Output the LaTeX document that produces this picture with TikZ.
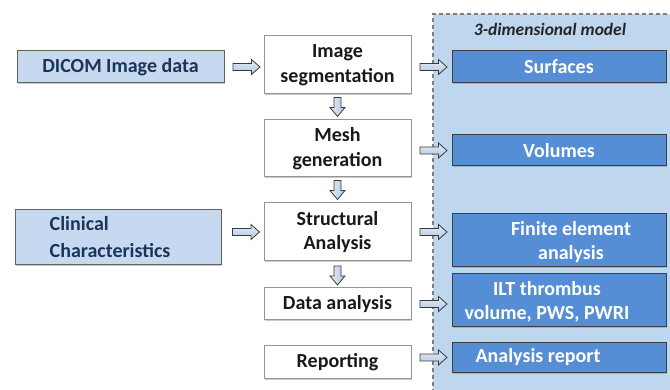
\documentclass[tikz,border=0pt]{standalone}
\usepackage{fontspec}
\setmainfont{Carlito}
\usetikzlibrary{shadows,calc}

\definecolor{navytext}{HTML}{1B3558}
\definecolor{inputfill}{HTML}{C6D9F0}
\definecolor{inputedge}{HTML}{5E6656}
\definecolor{whiteedge}{HTML}{959595}
\definecolor{modelfill}{HTML}{BED7EE}
\definecolor{modeledge}{HTML}{7F7F7F}
\definecolor{resultfill}{HTML}{558ED5}
\definecolor{resultedge}{HTML}{3C3F44}
\definecolor{arrowedge}{HTML}{3A3A3A}
\definecolor{arrowtop}{HTML}{E4ECF6}
\definecolor{arrowbot}{HTML}{B0C6E2}

\tikzset{
  boxfont/.style={font=\fontsize{20}{24.5}\selectfont\bfseries},
  softshadow/.style={drop shadow={shadow xshift=1.2pt, shadow yshift=-1.5pt, opacity=0.35, fill=black!60}},
  inputbox/.style={draw=inputedge, line width=1pt, fill=inputfill, text=navytext,
    boxfont, align=center, inner sep=0pt, softshadow},
  stagebox/.style={draw=whiteedge, line width=1pt, fill=white, text=black!90,
    boxfont, align=center, inner sep=0pt, minimum width=147pt, softshadow},
  resultbox/.style={draw=resultedge, line width=1pt, fill=resultfill,
    inner sep=0pt, minimum width=214pt, softshadow},
  resulttext/.style={text=white, boxfont, align=center, inner sep=0pt},
  arrowbody/.style={draw=arrowedge, line width=0.8pt, line join=miter},
  % block arrow pointing right, 27 long, centred on the pic origin
  pics/rightblock/.style={code={
    \draw[arrowbody, top color=arrowtop, bottom color=arrowbot]
      (-13.5,-3.5) -- (5,-3.5) -- (5,-7.5) -- (13.5,0) -- (5,7.5) -- (5,3.5) -- (-13.5,3.5) -- cycle;
  }},
  % block arrow pointing down, 19 long, centred on the pic origin
  pics/downblock/.style={code={
    \draw[arrowbody, left color=arrowtop, right color=arrowbot]
      (-3.5,-9.5) -- (3.5,-9.5) -- (3.5,0.5) -- (7.5,0.5) -- (0,9.5) -- (-7.5,0.5) -- (-3.5,0.5) -- cycle;
  }},
}

\begin{document}
\begin{tikzpicture}[x=1pt, y=-1pt]
\useasboundingbox (0,0) rectangle (670,390);
\clip (0,0) rectangle (670,390);

% 3-dimensional model panel
\fill[modelfill] (433,14) rectangle (680,400);
\draw[modeledge, line width=1.1pt, dash pattern=on 4pt off 3pt] (433,400) -- (433,14) -- (680,14);
\node[font=\fontsize{17.5}{20}\selectfont\bfseries\itshape, text=black!85, inner sep=0pt, anchor=base]
  (paneltitle) at (550,36) {3-dimensional model};

% inputs
\node[inputbox, minimum width=207pt, minimum height=32pt] (dicom) at (120.5,67) {DICOM Image data};
\node[inputbox, minimum width=206pt, minimum height=55pt] (clin) at (118,237.5) {};
\node[anchor=west, align=left, text=navytext, inner sep=0pt,
  font=\fontsize{20}{27}\selectfont\bfseries] (clintext) at ([xshift=35pt]clin.west) {Clinical\\Characteristics};

% processing stages
\node[stagebox, minimum height=58pt] (seg) at (337.5,65) {Image\\segmentation};
\node[stagebox, minimum height=57pt] (mesh) at (337.5,148.5) {Mesh\\generation};
\node[stagebox, minimum height=58pt] (struct) at (337.5,232) {Structural\\Analysis};
\node[stagebox, minimum height=32pt] (data) at (337.5,304) {Data analysis};
\node[stagebox, minimum height=32pt] (report) at (337.5,362) {Reporting};

% model outputs
\node[resultbox, minimum height=32pt] (surf) at (559,67) {};
\node[resulttext] at (surf.center) {Surfaces};
\node[resultbox, minimum height=31pt] (vol) at (559,150.5) {};
\node[resulttext] at (vol.center) {Volumes};
\node[resultbox, minimum height=53pt] (fea) at (559,240.5) {};
\node[resulttext] at ([xshift=12pt, yshift=-1.5pt]fea.center) {Finite element\\analysis};
\node[resultbox, minimum height=53pt] (ilt) at (559,300.5) {};
\node[resulttext] at ([xshift=-12pt, yshift=-1.5pt]ilt.center) {ILT thrombus\\volume, PWS, PWRI};
\node[resultbox, minimum height=29pt] (rep) at (559,357.5) {};
\node[resulttext] at ([xshift=-21pt]rep.center) {Analysis report};

% arrow positions, midway between the boxes they join
\path (dicom.east) -- (seg.west |- dicom.east) coordinate[midway] (dicom-seg);
\path (clin.east |- struct.west) -- (struct.west) coordinate[midway] (clin-struct);
\path (seg.south) -- (mesh.north) coordinate[midway] (seg-mesh);
\path (mesh.south) -- (struct.north) coordinate[midway] (mesh-struct);
\path (struct.south) -- (data.north) coordinate[midway] (struct-data);
\path (seg.east |- surf.west) -- (surf.west) coordinate[midway] (seg-surf);
\path (mesh.east |- vol.west) -- (vol.west) coordinate[midway] (mesh-vol);
\path (struct.east) -- (fea.west |- struct.east) coordinate[midway] (struct-fea);
\path (data.east) -- (ilt.west |- data.east) coordinate[midway] (data-ilt);
\path (report.east |- rep.west) -- (rep.west) coordinate[midway] (report-rep);

% arrows into the stages
\pic at ([xshift=2.5pt]dicom-seg) {rightblock};
\pic at ([xshift=3.5pt]clin-struct) {rightblock};

% arrows between stages
\pic at (seg-mesh) {downblock};
\pic at (mesh-struct) {downblock};
\pic at ([yshift=-1pt]struct-data) {downblock};

% arrows to the model outputs
\pic at ([xshift=2pt]seg-surf) {rightblock};
\pic at ([xshift=2pt]mesh-vol) {rightblock};
\pic at ([xshift=2pt]struct-fea) {rightblock};
\pic at ([xshift=2pt]data-ilt) {rightblock};
\pic at ([xshift=2pt]report-rep) {rightblock};
\end{tikzpicture}
\end{document}
